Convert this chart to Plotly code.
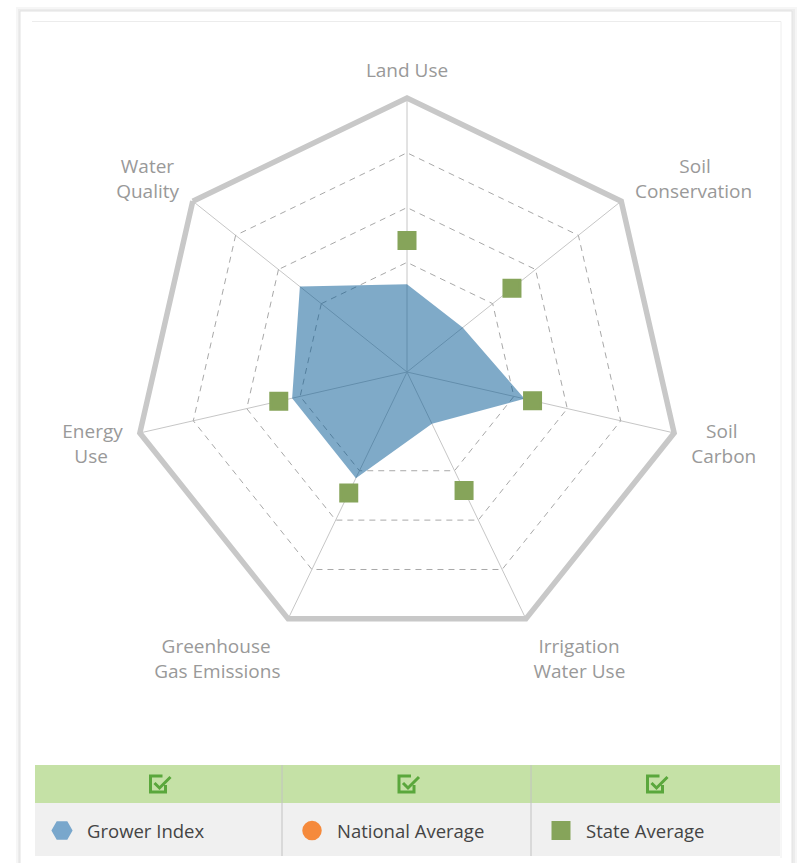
import plotly.graph_objects as go

# ---------------- data ----------------
categories = ["Land Use", "Soil Conservation", "Soil Carbon", "Irrigation Water Use",
              "Greenhouse Gas Emissions", "Energy Use", "Water Quality"]
label_lines = [["Land Use"], ["Soil", "Conservation"], ["Soil", "Carbon"],
               ["Irrigation", "Water Use"], ["Greenhouse", "Gas Emissions"],
               ["Energy", "Use"], ["Water", "Quality"]]
grower_index = [0.32, 0.26, 0.44, 0.21, 0.43, 0.43, 0.50]
national_average = [None, None, None, None, None, None, None]
state_average = [0.48, 0.49, 0.47, 0.48, 0.49, 0.48, None]
radial_ticks = [0.4, 0.6, 0.8]
series_names = ["Grower Index", "National Average", "State Average"]

# ---------------- helpers ----------------
W, H = 797, 863
FONT = "Open Sans"


def px_x(v):
    return v / W


def px_y(v):
    return 1 - v / H


# approximate Open Sans advance widths (per 1000 em) to centre multi-line tick labels
_adv = {"a": 556, "b": 613, "c": 480, "d": 613, "e": 561, "f": 336, "g": 546, "h": 613,
        "i": 258, "l": 258, "m": 932, "n": 613, "o": 604, "r": 409, "s": 477, "t": 352,
        "u": 613, "v": 500, "w": 778, "x": 529, "y": 500, " ": 260, "C": 631, "E": 556,
        "G": 717, "I": 279, "L": 519, "Q": 778, "S": 549, "U": 735, "W": 928}


def text_w(s):
    return sum(_adv.get(c, 560) for c in s)


def centred_label(lines, idx, n):
    if len(lines) == 1:
        return lines[0]
    import math
    ang = math.radians(90 - idx * 360 / n)
    c = math.cos(ang)
    widest = max(text_w(l) for l in lines)
    out = []
    for l in lines:
        pad = int(round((widest - text_w(l)) / 2 / 260))
        if c > 0.1:
            l = "\u00a0" * pad + l
        elif c < -0.1:
            l = l + "\u00a0" * pad
        out.append(l)
    return "<br>".join(out)


tick_text = [centred_label(l, i, len(categories)) for i, l in enumerate(label_lines)]

fig = go.Figure()

# Grower index area
fig.add_trace(go.Scatterpolar(
    r=grower_index + grower_index[:1],
    theta=categories + categories[:1],
    fill="toself",
    fillcolor="rgba(0,86,146,0.5)",
    mode="lines",
    line=dict(width=0, color="rgba(0,0,0,0)"),
    name=series_names[0],
    showlegend=False,
    hoverinfo="skip",
))

# legend entry for grower index (hexagon symbol)
fig.add_trace(go.Scatterpolar(
    r=[None], theta=[None], mode="markers", name=series_names[0],
    marker=dict(symbol="hexagon2", size=16, color="#79a7cc",
                line=dict(width=4.5, color="#79a7cc")),
    legend="legend",
))

# national average (no values shown)
fig.add_trace(go.Scatterpolar(
    r=national_average, theta=categories, mode="markers", name=series_names[1],
    marker=dict(symbol="circle", size=16, color="#f58a3c",
                line=dict(width=3.5, color="#f58a3c")),
    legend="legend2",
))

# state average squares
fig.add_trace(go.Scatterpolar(
    r=state_average, theta=categories, mode="markers", name=series_names[2],
    marker=dict(symbol="square", size=16, color="#86a45a",
                line=dict(width=3, color="#86a45a")),
    legend="legend3",
    hoverinfo="skip",
))

# ---------------- card / legend decorations ----------------
shapes = []
shapes.append(dict(type="rect", xref="paper", yref="paper", layer="below",
                   x0=px_x(16), x1=px_x(797), y0=px_y(890), y1=px_y(7),
                   line=dict(width=0), fillcolor="rgba(0,0,0,0.035)"))
shapes.append(dict(type="rect", xref="paper", yref="paper", layer="below",
                   x0=px_x(18), x1=px_x(795), y0=px_y(890), y1=px_y(9),
                   line=dict(width=0), fillcolor="rgba(0,0,0,0.04)"))
shapes.append(dict(type="rect", xref="paper", yref="paper", layer="below",
                   x0=px_x(20), x1=px_x(792), y0=px_y(890), y1=px_y(11),
                   line=dict(width=1, color="#e2e2e2"), fillcolor="white"))
shapes.append(dict(type="line", xref="paper", yref="paper", layer="below",
                   x0=px_x(32), x1=px_x(781), y0=px_y(21.5), y1=px_y(21.5),
                   line=dict(width=1, color="#ececec")))
shapes.append(dict(type="line", xref="paper", yref="paper", layer="below",
                   x0=px_x(781), x1=px_x(781), y0=px_y(21.5), y1=px_y(858),
                   line=dict(width=1, color="#eeeeee")))
# legend table
shapes.append(dict(type="rect", xref="paper", yref="paper", layer="below",
                   x0=px_x(35), x1=px_x(780), y0=px_y(803), y1=px_y(765),
                   line=dict(width=0), fillcolor="#c5e1a6"))
shapes.append(dict(type="rect", xref="paper", yref="paper", layer="below",
                   x0=px_x(35), x1=px_x(780), y0=px_y(856), y1=px_y(803),
                   line=dict(width=0), fillcolor="#f0f0f0"))
for sx in (282, 531):
    shapes.append(dict(type="line", xref="paper", yref="paper", layer="below",
                       x0=px_x(sx), x1=px_x(sx), y0=px_y(856), y1=px_y(765),
                       line=dict(width=1, color="#c2c2c2")))
# check-box icons
for cx in (158.5, 407, 655.5):
    cy = 784
    l, r, t, b = cx - 8, cx + 7, cy - 8, cy + 8
    box = (f"M {px_x(cx + 4)} {px_y(t)} L {px_x(l)} {px_y(t)} L {px_x(l)} {px_y(b)} "
           f"L {px_x(r)} {px_y(b)} L {px_x(r)} {px_y(cy + 1)}")
    chk = (f"M {px_x(cx - 4)} {px_y(cy - 1)} L {px_x(cx + 1)} {px_y(cy + 4)} "
           f"L {px_x(cx + 12)} {px_y(cy - 7)}")
    for p in (box, chk):
        shapes.append(dict(type="path", xref="paper", yref="paper", path=p,
                           line=dict(width=3, color="#5aa73c")))

# ---------------- polar layout ----------------
cx_px, cy_px, rad_px = 407, 372, 274
legend_common = dict(orientation="h", xanchor="left", yanchor="middle",
                     y=px_y(831), bgcolor="rgba(0,0,0,0)", borderwidth=0,
                     itemwidth=40, font=dict(family=FONT, size=18.5, color="#444444"))

fig.update_layout(
    width=W, height=H,
    margin=dict(l=0, r=0, t=0, b=0),
    paper_bgcolor="white",
    plot_bgcolor="white",
    font=dict(family=FONT),
    shapes=shapes,
    polar=dict(
        domain=dict(x=[px_x(cx_px - rad_px), px_x(cx_px + rad_px)],
                    y=[px_y(cy_px + rad_px), px_y(cy_px - rad_px)]),
        bgcolor="rgba(0,0,0,0)",
        gridshape="linear",
        angularaxis=dict(
            rotation=90, direction="clockwise",
            categoryorder="array", categoryarray=categories,
            tickvals=categories, ticktext=tick_text,
            showline=True, linecolor="#c8c8c8", linewidth=5.5,
            showgrid=True, gridcolor="#c6c6c6", gridwidth=1.4,
            ticks="outside", ticklen=11, tickcolor="rgba(0,0,0,0)",
            tickfont=dict(family=FONT, size=19, color="#999999"),
        ),
        radialaxis=dict(
            range=[0, 1], tickvals=radial_ticks,
            showticklabels=False, showline=False, ticks="",
            showgrid=True, gridcolor="#a8a8a8", gridwidth=1.2, griddash="6px,5px",
        ),
    ),
    legend=dict(legend_common, x=px_x(37)),
    legend2=dict(legend_common, x=px_x(287)),
    legend3=dict(legend_common, x=px_x(536)),
)

fig.write_html("out.html", config={"displayModeBar": False},
               post_script="document.body.style.margin='0';document.body.style.padding='0';")
